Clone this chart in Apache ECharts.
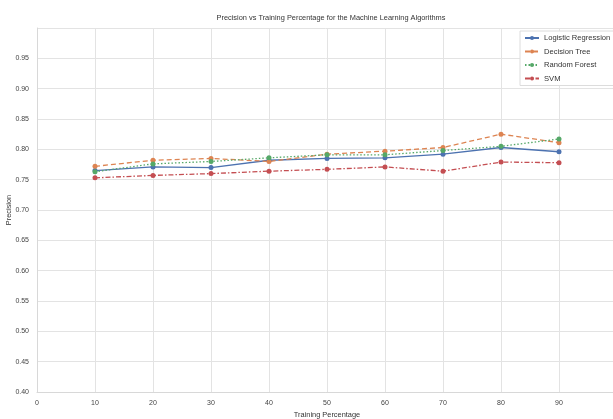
<!DOCTYPE html>
<html>
<head>
<meta charset="utf-8">
<script src="https://cdn.jsdelivr.net/npm/echarts@6/dist/echarts.min.js"></script>
<style>
  html, body { margin: 0; padding: 0; background: #fff; }
  #chart { width: 613px; height: 419px; }
</style>
</head>
<body>
<div id="chart"></div>
<script>
const trainPct = [10, 20, 30, 40, 50, 60, 70, 80, 90];
const logReg = [0.765, 0.771, 0.770, 0.782, 0.785, 0.786, 0.792, 0.803, 0.796];
const decTree = [0.772, 0.782, 0.785, 0.780, 0.792, 0.797, 0.803, 0.825, 0.811];
const randForest = [0.763, 0.776, 0.780, 0.786, 0.791, 0.791, 0.798, 0.805, 0.817];
const svm = [0.753, 0.757, 0.760, 0.764, 0.767, 0.771, 0.764, 0.779, 0.778];

const font = '"Liberation Sans Narrow", "Arial Narrow", "Liberation Sans", Arial, sans-serif';

function mk(name, data, color, type) {
  return {
    name: name,
    type: 'line',
    data: trainPct.map((x, i) => [x, data[i]]),
    symbol: 'circle',
    symbolSize: 5,
    itemStyle: { color: color },
    lineStyle: { color: color, width: 1.3, type: type },
    emphasis: { disabled: true },
    animation: false
  };
}

const chart = echarts.init(document.getElementById('chart'));
chart.setOption({
  backgroundColor: '#fff',
  textStyle: { fontFamily: font },
  title: {
    text: 'Precision vs Training Percentage for the Machine Learning Algorithms',
    left: 326, top: 9, textAlign: 'center',
    textStyle: { fontSize: 7.4, fontWeight: 'normal', color: '#333', fontFamily: font }
  },
  legend: {
    orient: 'vertical',
    left: 520, top: 31,
    padding: [3, 6, 3, 4],
    itemGap: 5.5,
    itemWidth: 14, itemHeight: 5,
    borderColor: '#dcdcdc', borderWidth: 1,
    backgroundColor: '#fff',
    textStyle: { fontSize: 7.6, color: '#333', fontFamily: font },
    data: ['Logistic Regression', 'Decision Tree', 'Random Forest', 'SVM']
  },
  grid: { left: 37, right: -4, top: 28, bottom: 27, outerBoundsMode: 'none', containLabel: false },
  xAxis: {
    type: 'value',
    min: 0, max: 100, interval: 10,
    name: 'Training Percentage',
    nameLocation: 'middle',
    nameGap: 19,
    nameMoveOverlap: false,
    nameTextStyle: { fontSize: 7.4, color: '#333', fontFamily: font },
    axisLine: { lineStyle: { color: '#d8d8d8' } },
    axisTick: { show: false },
    axisLabel: { fontSize: 7, color: '#444', margin: 8, showMaxLabel: false, fontFamily: font },
    splitLine: { show: true, lineStyle: { color: '#e3e3e3', width: 1 } }
  },
  yAxis: {
    type: 'value',
    min: 0.40, max: 1.0, interval: 0.05,
    name: 'Precision',
    nameLocation: 'middle',
    nameGap: 25,
    nameMoveOverlap: false,
    nameTextStyle: { fontSize: 7.4, color: '#333', fontFamily: font },
    axisLine: { show: true, lineStyle: { color: '#d8d8d8' } },
    axisTick: { show: false },
    axisLabel: {
      fontSize: 7, color: '#444', margin: 8, showMaxLabel: false, fontFamily: font,
      formatter: v => v.toFixed(2)
    },
    splitLine: { show: true, lineStyle: { color: '#e3e3e3', width: 1 } }
  },
  series: [
    mk('Logistic Regression', logReg, '#4C72B0', 'solid'),
    mk('Decision Tree', decTree, '#DD8452', [5, 3]),
    mk('Random Forest', randForest, '#55A868', [1.5, 2]),
    mk('SVM', svm, '#C44E52', [5, 2, 1.5, 2])
  ]
});
</script>
</body>
</html>
